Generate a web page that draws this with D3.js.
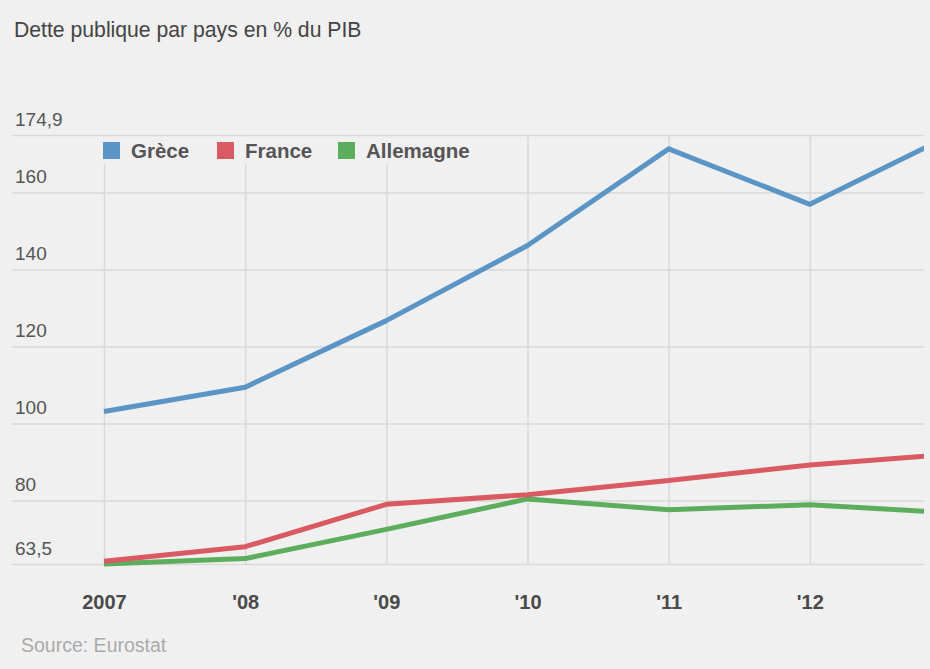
<!DOCTYPE html>
<html>
<head>
<meta charset="utf-8">
<script src="https://cdn.jsdelivr.net/npm/d3@7"></script>
<style>
  body { margin: 0; background: #f0f0f0; }
  svg { display: block; font-family: "Liberation Sans", Arial, sans-serif; }
  .grid line { stroke: #d9d9d9; stroke-width: 1.5; }
  .grid path { display: none; }
</style>
</head>
<body>
<svg width="930" height="669"></svg>
<script>
var years = [2007, 2008, 2009, 2010, 2011, 2012, 2013];
var yearLabels = ["2007", "'08", "'09", "'10", "'11", "'12", "'13"];
var grece = [103.1, 109.4, 126.7, 146.2, 171.3, 156.9, 174.9];
var france = [64.2, 68.0, 79.0, 81.5, 85.2, 89.2, 92.0];
var allemagne = [63.5, 64.9, 72.5, 80.4, 77.6, 78.9, 76.8];
var yTicks = [63.5, 80, 100, 120, 140, 160, 174.9];

var series = [
  {name: "Grèce", values: grece, color: "#5a95c5"},
  {name: "France", values: france, color: "#d95a62"},
  {name: "Allemagne", values: allemagne, color: "#5cae5c"}
];

var svg = d3.select("svg");
var plotLeft = 12, plotRight = 924, plotTop = 135, plotBottom = 564;

var x = d3.scaleLinear().domain([2007, 2013]).range([104, 951]);
var y = d3.scaleLinear().domain([63.5, 174.9]).range([plotBottom, plotTop]);

svg.append("defs").append("clipPath").attr("id", "clip")
  .append("rect").attr("x", 0).attr("y", 0).attr("width", plotRight).attr("height", 669);

var fmt = function(d) { return String(d).replace(".", ","); };

// title
svg.append("text")
  .attr("x", 14).attr("y", 37)
  .style("font-size", "21.2px")
  .style("fill", "#444")
  .text("Dette publique par pays en % du PIB");

// horizontal grid + y labels
var yAxis = svg.append("g")
  .attr("class", "grid")
  .attr("transform", "translate(" + plotLeft + ",0)")
  .call(d3.axisRight(y).tickValues(yTicks).tickSize(plotRight - plotLeft).tickFormat(fmt));
yAxis.selectAll("text")
  .attr("x", 3).attr("dy", -10)
  .attr("text-anchor", "start")
  .style("font-size", "19px")
  .style("fill", "#555")
  .style("font-family", "Liberation Sans, Arial, sans-serif");

// vertical grid + x labels (clip on a wrapper so coords are page coords)
var xWrap = svg.append("g").attr("clip-path", "url(#clip)");
var xAxis = xWrap.append("g")
  .attr("class", "grid")
  .attr("transform", "translate(0," + plotBottom + ")")
  .call(d3.axisBottom(x).tickValues(years).tickSize(-(plotBottom - plotTop))
    .tickFormat(function(d, i) { return yearLabels[i]; }));
xAxis.selectAll("text")
  .attr("y", 45)
  .attr("dy", 0)
  .style("font-size", "20px")
  .style("font-weight", "bold")
  .style("fill", "#4a4a4a")
  .style("font-family", "Liberation Sans, Arial, sans-serif");
// the last year falls outside the visible frame
xAxis.selectAll(".tick").filter(function(d) { return x(d) > plotRight; })
  .select("text").remove();

// legend background covers gridlines
var legend = svg.append("g");
legend.append("rect")
  .attr("x", 100).attr("y", 137).attr("width", 385).attr("height", 27)
  .attr("fill", "#f0f0f0");

var legendX = [103, 217, 338];
series.forEach(function(s, i) {
  legend.append("rect")
    .attr("x", legendX[i]).attr("y", 142)
    .attr("width", 17).attr("height", 17)
    .attr("fill", s.color);
  legend.append("text")
    .attr("x", legendX[i] + 28).attr("y", 158)
    .style("font-size", "20.5px")
    .style("font-weight", "bold")
    .style("fill", "#555")
    .text(s.name);
});

// lines
var line = d3.line()
  .x(function(d, i) { return x(years[i]); })
  .y(function(d) { return y(d); });

svg.append("g").attr("clip-path", "url(#clip)")
  .selectAll("path.serie")
  .data(series.slice().reverse())
  .enter().append("path")
  .attr("class", "serie")
  .attr("d", function(d) { return line(d.values); })
  .attr("fill", "none")
  .attr("stroke", function(d) { return d.color; })
  .attr("stroke-width", 5)
  .attr("stroke-linejoin", "round");

// source
svg.append("text")
  .attr("x", 21).attr("y", 652)
  .style("font-size", "19.5px")
  .style("fill", "#aaa")
  .text("Source: Eurostat");
</script>
</body>
</html>
